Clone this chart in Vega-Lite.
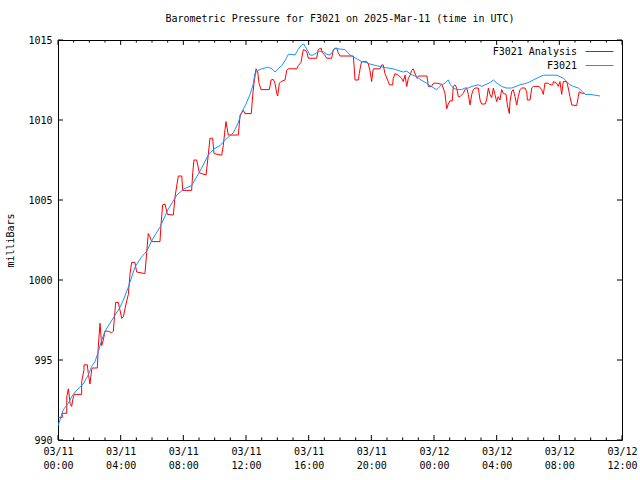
{
"$schema": "https://vega.github.io/schema/vega-lite/v6.json",
"width": 564, "height": 400,
"autosize": {"type": "none"},
"padding": {"left": 58, "top": 40, "right": 18, "bottom": 40},
"title": {"text": "Barometric Pressure for F3021 on 2025-Mar-11 (time in UTC)", "font": "DejaVu Sans Mono", "fontSize": 10, "fontWeight": "normal", "offset": 11, "anchor": "middle", "color": "black"},
"config": {
  "view": {"stroke": "black", "strokeWidth": 1},
  "axis": {"domain": false, "grid": false, "labelFont": "DejaVu Sans Mono", "labelFontSize": 10, "labelColor": "black", "tickColor": "black", "tickWidth": 1, "titleFont": "DejaVu Sans Mono", "titleFontWeight": "normal", "titleFontSize": 10, "titleColor": "black"}
},
"datasets": {
"majorH": [{"h":0},{"h":4},{"h":8},{"h":12},{"h":16},{"h":20},{"h":24},{"h":28},{"h":32},{"h":36}],
"minorH": [{"h":1},{"h":2},{"h":3},{"h":5},{"h":6},{"h":7},{"h":9},{"h":10},{"h":11},{"h":13},{"h":14},{"h":15},{"h":17},{"h":18},{"h":19},{"h":21},{"h":22},{"h":23},{"h":25},{"h":26},{"h":27},{"h":29},{"h":30},{"h":31},{"h":33},{"h":34},{"h":35}],
"majorP": [{"p":990},{"p":995},{"p":1000},{"p":1005},{"p":1010},{"p":1015}],
"analysis": [
{"h":0,"p":991.4},{"h":0.27,"p":991.4},{"h":0.27,"p":991.67},{"h":0.56,"p":991.67},{"h":0.56,"p":992.7},{"h":0.66,"p":993.2},{"h":0.77,"p":992.3},{"h":0.87,"p":992.1},{"h":0.98,"p":992.7},{"h":1.04,"p":992.85},{"h":1.51,"p":992.85},{"h":1.51,"p":993.64},{"h":1.66,"p":994.4},{"h":1.66,"p":994.7},{"h":1.87,"p":994.7},{"h":1.93,"p":994.2},{"h":2.04,"p":993.5},{"h":2.15,"p":994.4},{"h":2.19,"p":994.5},{"h":2.51,"p":994.5},{"h":2.57,"p":995.8},{"h":2.68,"p":997.3},{"h":2.79,"p":995.9},{"h":2.89,"p":996.25},{"h":3.0,"p":996.8},{"h":3.21,"p":996.8},{"h":3.43,"p":996.7},{"h":3.53,"p":996.8},{"h":3.64,"p":998.1},{"h":3.68,"p":998.6},{"h":3.85,"p":998.6},{"h":4.07,"p":997.6},{"h":4.17,"p":997.7},{"h":4.34,"p":998.5},{"h":4.49,"p":999.1},{"h":4.6,"p":1000.4},{"h":4.7,"p":1001.1},{"h":4.91,"p":1001.1},{"h":5.02,"p":1000.5},{"h":5.55,"p":1000.4},{"h":5.66,"p":1001.7},{"h":5.76,"p":1002.9},{"h":5.87,"p":1002.7},{"h":5.98,"p":1002.4},{"h":6.51,"p":1002.4},{"h":6.57,"p":1003.4},{"h":6.68,"p":1004.7},{"h":6.83,"p":1004.75},{"h":6.98,"p":1004.1},{"h":7.36,"p":1004.06},{"h":7.47,"p":1005.2},{"h":7.68,"p":1006.5},{"h":7.9,"p":1006.5},{"h":7.96,"p":1005.6},{"h":8.53,"p":1005.6},{"h":8.6,"p":1006.7},{"h":8.68,"p":1007.5},{"h":8.85,"p":1007.5},{"h":8.96,"p":1007.0},{"h":9.02,"p":1006.7},{"h":9.45,"p":1006.56},{"h":9.59,"p":1007.8},{"h":9.7,"p":1008.86},{"h":9.87,"p":1008.86},{"h":9.96,"p":1007.9},{"h":10.45,"p":1007.8},{"h":10.55,"p":1008.4},{"h":10.66,"p":1009.4},{"h":10.72,"p":1009.9},{"h":10.87,"p":1009.06},{"h":11.51,"p":1009.06},{"h":11.62,"p":1010.3},{"h":11.83,"p":1010.6},{"h":11.94,"p":1010.4},{"h":12.34,"p":1010.4},{"h":12.43,"p":1011.56},{"h":12.51,"p":1012.3},{"h":12.64,"p":1013.2},{"h":12.75,"p":1013.0},{"h":12.83,"p":1012.3},{"h":12.96,"p":1011.9},{"h":13.49,"p":1011.9},{"h":13.6,"p":1012.5},{"h":13.74,"p":1012.54},{"h":13.85,"p":1012.3},{"h":13.96,"p":1011.67},{"h":14.02,"p":1011.5},{"h":14.13,"p":1012.3},{"h":14.23,"p":1012.4},{"h":14.49,"p":1012.5},{"h":14.6,"p":1013.1},{"h":14.7,"p":1013.2},{"h":15.24,"p":1013.2},{"h":15.34,"p":1013.4},{"h":15.51,"p":1013.6},{"h":15.66,"p":1014.4},{"h":15.87,"p":1014.3},{"h":15.98,"p":1013.86},{"h":16.51,"p":1013.86},{"h":16.61,"p":1014.4},{"h":16.79,"p":1014.5},{"h":16.87,"p":1014.2},{"h":17.0,"p":1014.1},{"h":17.15,"p":1013.86},{"h":17.47,"p":1013.86},{"h":17.57,"p":1014.4},{"h":17.79,"p":1014.5},{"h":17.89,"p":1014.2},{"h":18.0,"p":1014.0},{"h":18.85,"p":1014.0},{"h":18.89,"p":1013.5},{"h":18.96,"p":1012.5},{"h":19.17,"p":1012.5},{"h":19.23,"p":1012.9},{"h":19.32,"p":1013.4},{"h":19.38,"p":1013.65},{"h":19.7,"p":1013.65},{"h":19.81,"p":1013.5},{"h":19.91,"p":1013.1},{"h":20.02,"p":1012.4},{"h":20.09,"p":1013.0},{"h":20.13,"p":1013.2},{"h":20.55,"p":1013.2},{"h":20.66,"p":1013.44},{"h":20.76,"p":1013.44},{"h":20.87,"p":1012.9},{"h":21.08,"p":1012.4},{"h":21.15,"p":1012.2},{"h":21.36,"p":1012.2},{"h":21.4,"p":1012.6},{"h":21.51,"p":1012.9},{"h":21.72,"p":1012.8},{"h":21.94,"p":1012.6},{"h":22.04,"p":1012.4},{"h":22.15,"p":1012.8},{"h":22.26,"p":1012.1},{"h":22.36,"p":1012.6},{"h":22.47,"p":1012.8},{"h":22.58,"p":1013.1},{"h":22.68,"p":1013.2},{"h":22.79,"p":1012.9},{"h":22.93,"p":1012.6},{"h":23.0,"p":1012.75},{"h":23.55,"p":1012.75},{"h":23.64,"p":1012.1},{"h":23.85,"p":1012.1},{"h":23.96,"p":1012.3},{"h":24.17,"p":1012.3},{"h":24.49,"p":1012.23},{"h":24.59,"p":1012.0},{"h":24.7,"p":1011.67},{"h":24.81,"p":1010.7},{"h":24.91,"p":1011.0},{"h":25.02,"p":1011.2},{"h":25.17,"p":1011.2},{"h":25.23,"p":1012.1},{"h":25.34,"p":1012.2},{"h":25.45,"p":1012.0},{"h":25.55,"p":1011.46},{"h":25.66,"p":1011.46},{"h":25.87,"p":1011.67},{"h":25.98,"p":1011.9},{"h":26.09,"p":1012.0},{"h":26.19,"p":1011.6},{"h":26.3,"p":1010.94},{"h":26.41,"p":1011.6},{"h":26.51,"p":1011.9},{"h":26.62,"p":1012.0},{"h":26.83,"p":1012.0},{"h":26.94,"p":1011.25},{"h":27.04,"p":1011.0},{"h":27.26,"p":1011.0},{"h":27.36,"p":1011.25},{"h":27.47,"p":1012.0},{"h":27.57,"p":1011.6},{"h":27.68,"p":1011.4},{"h":27.79,"p":1012.0},{"h":27.89,"p":1011.6},{"h":28.0,"p":1011.15},{"h":28.1,"p":1011.46},{"h":28.21,"p":1011.25},{"h":28.32,"p":1011.9},{"h":28.42,"p":1011.67},{"h":28.6,"p":1011.6},{"h":28.68,"p":1010.94},{"h":28.81,"p":1010.4},{"h":28.85,"p":1011.15},{"h":28.96,"p":1011.77},{"h":29.06,"p":1011.9},{"h":29.17,"p":1011.46},{"h":29.28,"p":1010.94},{"h":29.38,"p":1011.46},{"h":29.49,"p":1011.9},{"h":29.6,"p":1012.0},{"h":29.81,"p":1012.0},{"h":29.92,"p":1011.77},{"h":29.96,"p":1011.25},{"h":30.13,"p":1011.25},{"h":30.24,"p":1012.0},{"h":30.34,"p":1012.1},{"h":30.72,"p":1012.1},{"h":30.87,"p":1011.9},{"h":30.98,"p":1011.6},{"h":31.08,"p":1012.3},{"h":31.3,"p":1012.3},{"h":31.4,"p":1012.2},{"h":31.58,"p":1012.2},{"h":31.62,"p":1012.4},{"h":31.83,"p":1012.3},{"h":31.93,"p":1012.1},{"h":32.04,"p":1012.4},{"h":32.15,"p":1011.6},{"h":32.25,"p":1012.4},{"h":32.47,"p":1012.4},{"h":32.57,"p":1012.0},{"h":32.68,"p":1011.46},{"h":32.79,"p":1010.94},{"h":33.11,"p":1010.9},{"h":33.21,"p":1011.46},{"h":33.27,"p":1011.77},{"h":33.43,"p":1011.67},{"h":33.64,"p":1011.67}
],
"obs": [
{"h":0,"p":990.9},{"h":0.06,"p":991.06},{"h":0.34,"p":991.9},{"h":0.66,"p":992.3},{"h":0.87,"p":992.7},{"h":1.09,"p":993.0},{"h":1.4,"p":993.3},{"h":1.61,"p":993.5},{"h":1.93,"p":994.06},{"h":2.15,"p":994.6},{"h":2.36,"p":994.9},{"h":2.57,"p":995.5},{"h":2.79,"p":996.25},{"h":3.0,"p":996.8},{"h":3.32,"p":997.3},{"h":3.64,"p":997.8},{"h":3.96,"p":998.3},{"h":4.17,"p":998.75},{"h":4.47,"p":999.5},{"h":4.91,"p":1000.8},{"h":5.3,"p":1001.4},{"h":5.66,"p":1001.8},{"h":6.06,"p":1002.6},{"h":6.51,"p":1003.3},{"h":7.02,"p":1004.4},{"h":7.58,"p":1005.3},{"h":8.04,"p":1005.7},{"h":8.53,"p":1005.9},{"h":9.06,"p":1006.8},{"h":9.59,"p":1007.8},{"h":9.96,"p":1008.2},{"h":10.34,"p":1008.4},{"h":10.72,"p":1008.8},{"h":11.19,"p":1009.2},{"h":11.49,"p":1009.8},{"h":11.73,"p":1010.5},{"h":12.0,"p":1011.0},{"h":12.26,"p":1011.6},{"h":12.45,"p":1012.2},{"h":12.57,"p":1012.9},{"h":12.77,"p":1013.1},{"h":13.0,"p":1013.2},{"h":13.42,"p":1013.3},{"h":13.66,"p":1013.2},{"h":13.85,"p":1013.0},{"h":14.04,"p":1013.2},{"h":14.28,"p":1013.4},{"h":14.49,"p":1013.7},{"h":14.7,"p":1014.1},{"h":14.94,"p":1014.1},{"h":15.13,"p":1014.06},{"h":15.32,"p":1014.4},{"h":15.56,"p":1014.7},{"h":15.7,"p":1014.75},{"h":15.77,"p":1014.6},{"h":15.96,"p":1014.3},{"h":16.08,"p":1014.06},{"h":16.28,"p":1014.06},{"h":16.51,"p":1014.2},{"h":16.72,"p":1014.3},{"h":16.93,"p":1014.27},{"h":17.17,"p":1014.1},{"h":17.36,"p":1014.06},{"h":17.55,"p":1014.3},{"h":17.68,"p":1014.5},{"h":17.87,"p":1014.45},{"h":18.32,"p":1014.4},{"h":18.64,"p":1014.06},{"h":19.02,"p":1013.85},{"h":19.38,"p":1013.65},{"h":19.66,"p":1013.6},{"h":19.91,"p":1013.5},{"h":20.3,"p":1013.4},{"h":20.76,"p":1013.3},{"h":21.06,"p":1013.25},{"h":21.4,"p":1013.2},{"h":21.7,"p":1013.1},{"h":22.04,"p":1013.0},{"h":22.26,"p":1013.05},{"h":22.53,"p":1012.85},{"h":22.9,"p":1012.7},{"h":23.17,"p":1012.5},{"h":23.53,"p":1012.3},{"h":23.81,"p":1012.1},{"h":24.17,"p":1011.9},{"h":24.38,"p":1012.1},{"h":24.49,"p":1012.2},{"h":24.7,"p":1012.3},{"h":24.91,"p":1012.5},{"h":25.05,"p":1012.2},{"h":25.23,"p":1012.0},{"h":25.47,"p":1011.9},{"h":25.77,"p":1011.9},{"h":25.98,"p":1012.0},{"h":26.19,"p":1012.0},{"h":26.43,"p":1012.1},{"h":26.83,"p":1012.2},{"h":27.06,"p":1012.1},{"h":27.26,"p":1012.2},{"h":27.51,"p":1012.3},{"h":27.79,"p":1012.5},{"h":28.02,"p":1012.3},{"h":28.32,"p":1012.1},{"h":28.6,"p":1012.0},{"h":28.96,"p":1012.0},{"h":29.23,"p":1012.1},{"h":29.49,"p":1012.2},{"h":29.92,"p":1012.3},{"h":30.34,"p":1012.5},{"h":30.64,"p":1012.65},{"h":30.98,"p":1012.8},{"h":31.62,"p":1012.8},{"h":31.85,"p":1012.8},{"h":32.04,"p":1012.7},{"h":32.27,"p":1012.6},{"h":32.47,"p":1012.4},{"h":32.68,"p":1012.2},{"h":32.89,"p":1012.1},{"h":33.21,"p":1012.0},{"h":33.45,"p":1011.8},{"h":33.64,"p":1011.6},{"h":33.96,"p":1011.6},{"h":34.28,"p":1011.55},{"h":34.6,"p":1011.5}
]
},
"resolve": {"axis": {"x": "independent", "y": "independent"}},
"layer": [
  {
    "data": {"name": "analysis"},
    "mark": {"type": "line", "strokeWidth": 1, "clip": true},
    "encoding": {
      "x": {"field": "h", "type": "quantitative", "scale": {"domain": [0, 36], "nice": false, "zero": false},
        "axis": {"orient": "bottom", "title": null, "values": [0,4,8,12,16,20,24,28,32,36], "ticks": false, "labelPadding": 6, "labelLineHeight": 14, "labelBaseline": "top", "labelFlush": false,
          "labelExpr": "[(datum.value < 24 ? '03/11' : '03/12'), ((datum.value % 24) < 10 ? '0' : '') + (datum.value % 24) + ':00']"}},
      "y": {"field": "p", "type": "quantitative", "scale": {"domain": [990, 1015], "nice": false, "zero": false},
        "axis": {"orient": "left", "title": "milliBars", "format": "d", "values": [990,995,1000,1005,1010,1015], "ticks": false, "labelPadding": 6, "titlePadding": 12, "labelFlush": false}},
      "color": {"datum": "F3021 Analysis", "type": "nominal",
        "scale": {"domain": ["F3021 Analysis", "F3021"], "range": ["#ff0000", "#1e90ff"]},
        "legend": {"orient": "top-right", "title": null, "symbolType": "M-2.8,0H2.8", "symbolSize": 100, "symbolStrokeWidth": 1, "symbolFillColor": "transparent", "labelFont": "DejaVu Sans Mono", "labelFontSize": 10, "labelColor": "black", "labelAlign": "right", "labelOffset": -28, "symbolOffset": 0, "rowPadding": 3, "offset": 6, "padding": 0}},
      "order": {"value": null}
    }
  },
  {
    "data": {"name": "obs"},
    "mark": {"type": "line", "strokeWidth": 1, "clip": true},
    "encoding": {
      "x": {"field": "h", "type": "quantitative", "axis": null},
      "y": {"field": "p", "type": "quantitative", "axis": null},
      "color": {"datum": "F3021", "type": "nominal"},
      "order": {"value": null}
    }
  },
  {
    "data": {"name": "majorH"},
    "mark": {"type": "rule", "color": "black", "strokeWidth": 1},
    "encoding": {
      "x": {"field": "h", "type": "quantitative", "axis": null},
      "y": {"datum": 1015, "type": "quantitative", "axis": null},
      "y2": {"datum": 1014.69}
    }
  },
  {
    "data": {"name": "majorH"},
    "mark": {"type": "rule", "color": "black", "strokeWidth": 1},
    "encoding": {
      "x": {"field": "h", "type": "quantitative", "axis": null},
      "y": {"datum": 990, "type": "quantitative", "axis": null},
      "y2": {"datum": 990.31}
    }
  },
  {
    "data": {"name": "minorH"},
    "mark": {"type": "rule", "color": "black", "strokeWidth": 1},
    "encoding": {
      "x": {"field": "h", "type": "quantitative", "axis": null},
      "y": {"datum": 1015, "type": "quantitative", "axis": null},
      "y2": {"datum": 1014.84}
    }
  },
  {
    "data": {"name": "minorH"},
    "mark": {"type": "rule", "color": "black", "strokeWidth": 1},
    "encoding": {
      "x": {"field": "h", "type": "quantitative", "axis": null},
      "y": {"datum": 990, "type": "quantitative", "axis": null},
      "y2": {"datum": 990.16}
    }
  },
  {
    "data": {"name": "majorP"},
    "mark": {"type": "rule", "color": "black", "strokeWidth": 1},
    "encoding": {
      "y": {"field": "p", "type": "quantitative", "axis": null},
      "x": {"datum": 0, "type": "quantitative", "axis": null},
      "x2": {"datum": 0.32}
    }
  },
  {
    "data": {"name": "majorP"},
    "mark": {"type": "rule", "color": "black", "strokeWidth": 1},
    "encoding": {
      "y": {"field": "p", "type": "quantitative", "axis": null},
      "x": {"datum": 36, "type": "quantitative", "axis": null},
      "x2": {"datum": 35.68}
    }
  }
]
}
